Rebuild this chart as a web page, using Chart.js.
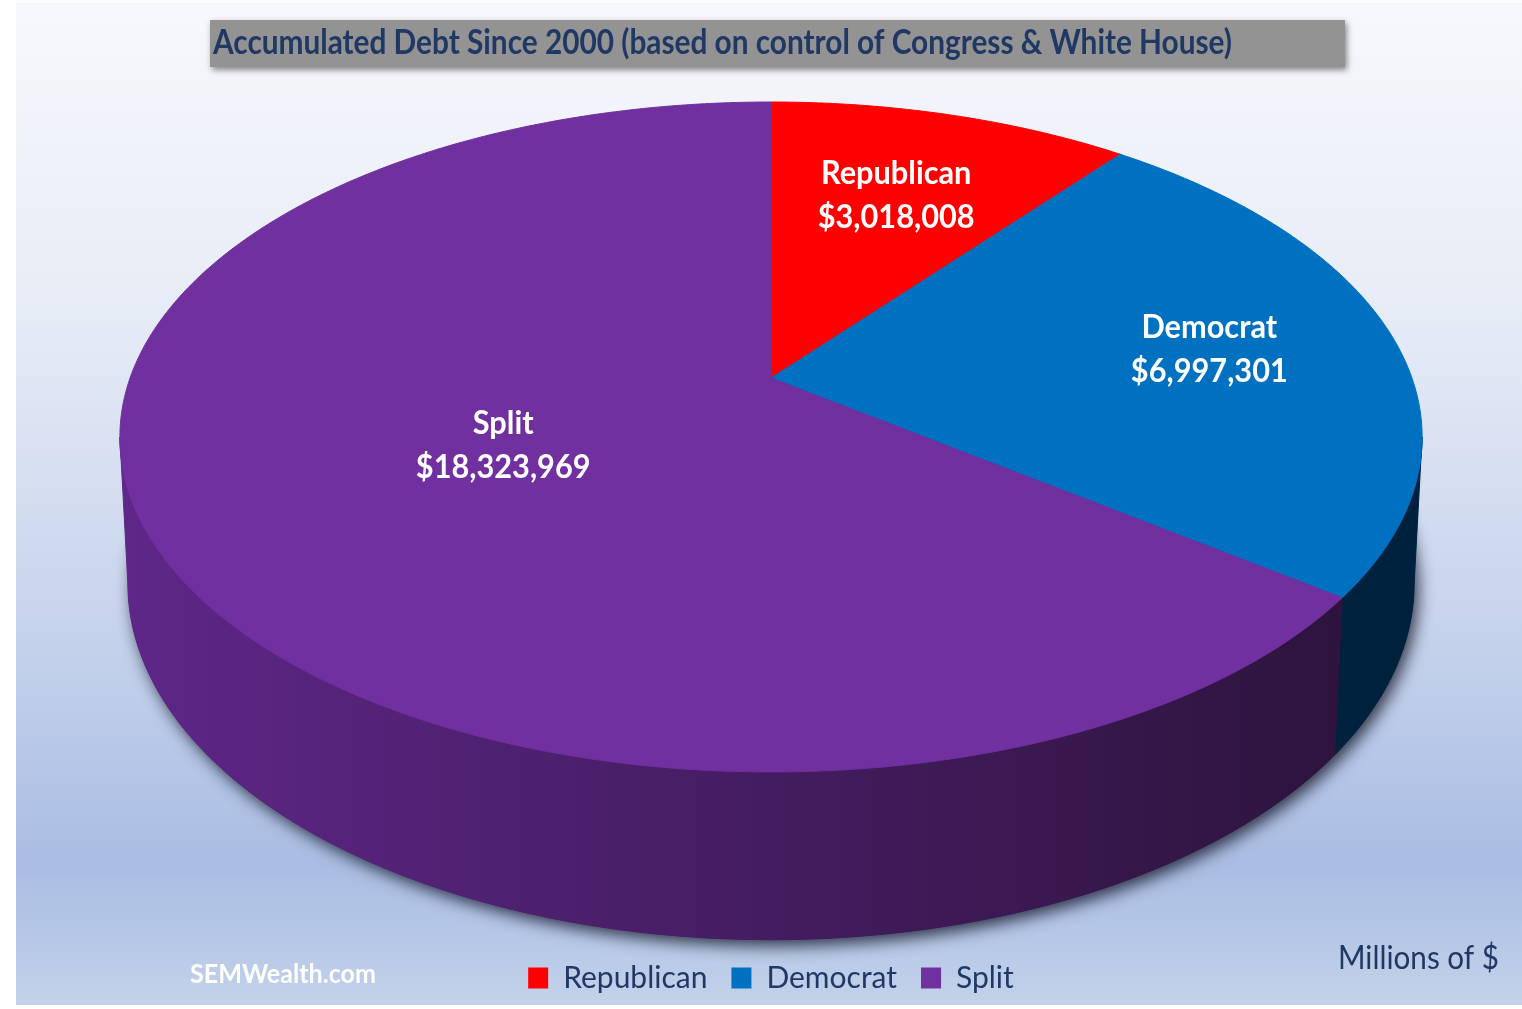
<!DOCTYPE html>
<html>
<head>
<meta charset="utf-8">
<title>Accumulated Debt Since 2000</title>
<script src="https://cdn.jsdelivr.net/npm/chart.js@4.4.1/dist/chart.umd.min.js"></script>
<style>
html, body { margin: 0; padding: 0; background: #fff; }
#wrap { position: relative; width: 1522px; height: 1009px; }
</style>
</head>
<body>
<div id="wrap"><canvas id="debtChart"></canvas></div>
<script>
const parties = ['Republican', 'Democrat', 'Split'];
const debtMillions = [3018008, 6997301, 18323969];
const topColors = ['#FF0000', '#0070C0', '#7030A0'];
const sideColors = [['#8a0000', '#560000'], ['#003060', '#00213d'], ['#5e2788', '#2a1238']];
const labelRadius = [0.66, 0.7, 0.45];

const titleText = 'Accumulated Debt Since 2000 (based on control of Congress & White House)';
const unitText = 'Millions of $';
const sourceText = 'SEMWealth.com';

const navy = '#1F3864';
const fontFamily = 'Lato, "Open Sans", sans-serif';

// tilt of the disc: near edge looks bigger than the far edge
const persp = 0.176;
const sink = 0.012;

function money(v) {
    return '$' + v.toLocaleString('en-US');
}

// draw text squeezed/stretched to a given width
function fitText(ctx, text, x, y, width, align) {
    const k = width / ctx.measureText(text).width;
    ctx.save();
    ctx.translate(x, y);
    ctx.scale(k, 1);
    ctx.textAlign = align;
    ctx.fillText(text, 0, 0);
    ctx.restore();
}

function discGeometry(chart) {
    const ca = chart.chartArea;
    const halfW = (ca.right - ca.left) / 2;
    const g = {
        left: ca.left,
        right: ca.right,
        cx: (ca.left + ca.right) / 2,
        a: halfW / 1.0157,
        b: halfW * 0.4986,
        h: halfW * 0.2227
    };
    g.cy = ca.top + g.b / (1 + persp);
    g.project = function(ang, r, depth) {
        const u = r * Math.cos(ang);
        const v = r * Math.sin(ang);
        const w = 1 - persp * v + sink * depth;
        return [g.cx + g.a * u / w, g.cy + (g.b * v + g.h * depth) / w];
    };
    return g;
}

function tracePath(ctx, g, from, to, depth, first) {
    const steps = Math.max(2, Math.ceil(Math.abs(to - from) / (Math.PI / 360)));
    for (let i = 0; i <= steps; i++) {
        const t = from + (to - from) * i / steps;
        const p = g.project(t, 1, depth);
        if (i === 0 && first) ctx.moveTo(p[0], p[1]);
        else ctx.lineTo(p[0], p[1]);
    }
}

function drawSliceLabels(chart) {
    const ctx = chart.ctx;
    const g = discGeometry(chart);
    const arcs = chart.getDatasetMeta(0).data;
    const values = chart.data.datasets[0].data;

    ctx.save();
    ctx.fillStyle = '#ffffff';
    ctx.font = 'bold 32px ' + fontFamily;
    ctx.textBaseline = 'middle';
    arcs.forEach((arc, i) => {
        const mid = (arc.startAngle + arc.endAngle) / 2;
        const p = g.project(mid, labelRadius[i], 0);
        const name = chart.data.labels[i];
        const amount = money(values[i]);
        fitText(ctx, name, p[0], p[1] - 22, ctx.measureText(name).width * 0.96, 'center');
        fitText(ctx, amount, p[0], p[1] + 22, ctx.measureText(amount).width * 0.96, 'center');
    });
    ctx.restore();
}

const pie3d = {
    id: 'pie3d',
    beforeDraw(chart) {
        const ctx = chart.ctx;
        ctx.save();
        ctx.fillStyle = '#ffffff';
        ctx.fillRect(0, 0, chart.width, chart.height);

        const bg = ctx.createLinearGradient(0, 3, 0, 1005);
        bg.addColorStop(0, '#f7f8fc');
        bg.addColorStop(0.3, '#e7ecf6');
        bg.addColorStop(0.6, '#c9d5ed');
        bg.addColorStop(0.86, '#a9bde3');
        bg.addColorStop(1, '#c3d2ea');
        ctx.fillStyle = bg;
        ctx.fillRect(16, 3, chart.width - 16, 1002);

        // title banner
        ctx.shadowColor = 'rgba(0, 0, 0, 0.45)';
        ctx.shadowBlur = 6;
        ctx.shadowOffsetX = 2;
        ctx.shadowOffsetY = 3;
        ctx.fillStyle = '#939393';
        ctx.fillRect(210, 20, 1135, 47);
        ctx.shadowColor = 'transparent';

        ctx.fillStyle = navy;
        ctx.font = 'bold 35px ' + fontFamily;
        ctx.textBaseline = 'alphabetic';
        fitText(ctx, titleText, 213, 54, 1019, 'left');
        ctx.restore();
    },
    beforeDatasetsDraw(chart) {
        const ctx = chart.ctx;
        const g = discGeometry(chart);
        const arcs = chart.getDatasetMeta(0).data;

        ctx.save();

        // soft shadow under the base
        ctx.beginPath();
        tracePath(ctx, g, 0, Math.PI * 2, 1, true);
        ctx.closePath();
        ctx.shadowColor = 'rgba(15, 15, 35, 0.8)';
        ctx.shadowBlur = 16;
        ctx.shadowOffsetX = 4;
        ctx.shadowOffsetY = 6;
        ctx.fillStyle = '#2a1238';
        ctx.fill();
        ctx.shadowColor = 'transparent';

        // front wall, only where it faces the viewer
        const wallFrom = Math.asin(persp);
        const wallTo = Math.PI - wallFrom;
        arcs.forEach((arc, i) => {
            const s = Math.max(arc.startAngle, wallFrom);
            const e = Math.min(arc.endAngle, wallTo);
            if (e <= s) return;
            const grad = ctx.createLinearGradient(g.left, 0, g.right, 0);
            grad.addColorStop(0, sideColors[i][0]);
            grad.addColorStop(1, sideColors[i][1]);
            ctx.beginPath();
            tracePath(ctx, g, s, e, 0, true);
            tracePath(ctx, g, e, s, 1, false);
            ctx.closePath();
            ctx.fillStyle = grad;
            ctx.strokeStyle = grad;
            ctx.lineWidth = 1;
            ctx.fill();
            ctx.stroke();
        });

        // top face of each slice
        arcs.forEach((arc, i) => {
            const c = g.project(0, 0, 0);
            ctx.beginPath();
            ctx.moveTo(c[0], c[1]);
            tracePath(ctx, g, arc.startAngle, arc.endAngle, 0, false);
            ctx.closePath();
            ctx.fillStyle = topColors[i];
            ctx.strokeStyle = topColors[i];
            ctx.lineWidth = 1;
            ctx.lineJoin = 'round';
            ctx.fill();
            ctx.stroke();
        });

        ctx.restore();
        return false;
    },
    afterDraw(chart) {
        drawSliceLabels(chart);

        const ctx = chart.ctx;
        ctx.save();
        ctx.textBaseline = 'alphabetic';
        ctx.fillStyle = '#ffffff';
        ctx.font = 'bold 27px ' + fontFamily;
        fitText(ctx, sourceText, 190, 983, 186, 'left');
        ctx.fillStyle = navy;
        ctx.font = '33px ' + fontFamily;
        fitText(ctx, unitText, 1338, 969, 161, 'left');
        ctx.restore();
    }
};

new Chart(document.getElementById('debtChart'), {
    type: 'pie',
    data: {
        labels: parties,
        datasets: [{
            data: debtMillions,
            backgroundColor: topColors,
            borderWidth: 0
        }]
    },
    options: {
        responsive: true,
        maintainAspectRatio: false,
        animation: false,
        layout: {
            padding: { left: 120, right: 100, top: 102, bottom: 6 }
        },
        plugins: {
            legend: {
                position: 'bottom',
                labels: {
                    color: navy,
                    font: { family: fontFamily, size: 30 },
                    boxWidth: 20,
                    boxHeight: 21,
                    padding: 24
                }
            },
            tooltip: { enabled: false }
        }
    },
    plugins: [pie3d]
});
</script>
</body>
</html>
